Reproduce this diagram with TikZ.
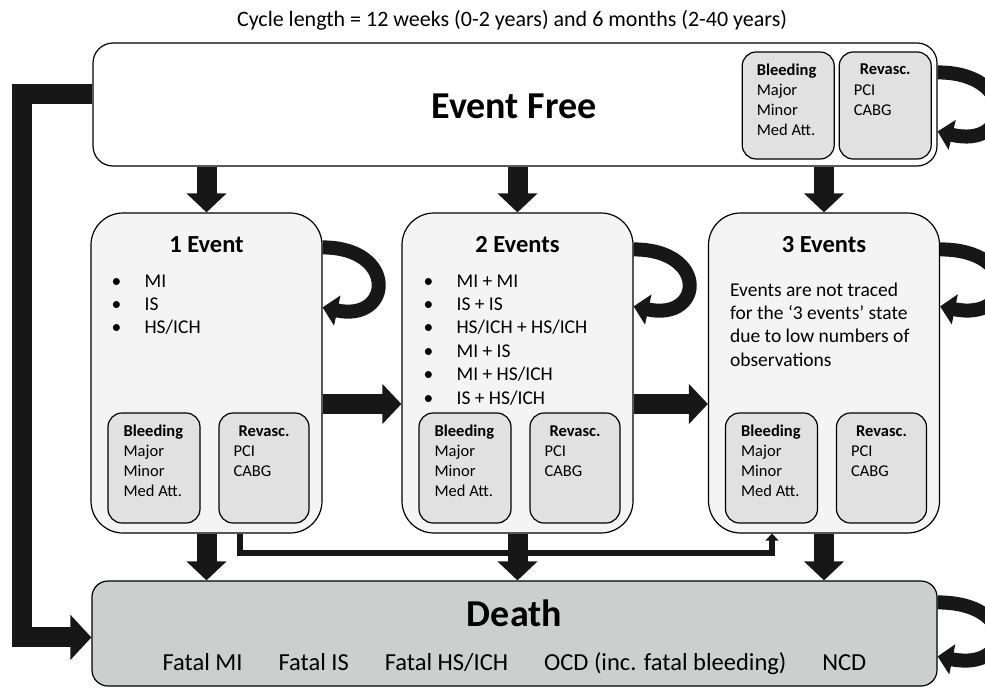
\documentclass[tikz,border=0pt]{standalone}
\usepackage{fontspec}
\setmainfont{Carlito}
\usetikzlibrary{arrows.meta,positioning}
\definecolor{arrowblack}{HTML}{171717}
\definecolor{statefill}{HTML}{F4F4F4}
\definecolor{subfill}{HTML}{E1E1E1}
\definecolor{deathfill}{HTML}{CDCECE}
\newcommand{\bitem}{\makebox[33pt][l]{\textbullet}}

\begin{document}
\begin{tikzpicture}[x=1pt,y=-1pt]
\tikzstyle{eventfree} = [rectangle, rounded corners=20pt, minimum width=844pt, minimum height=123pt, draw=black, line width=1.2pt, fill=white]
\tikzstyle{state} = [rectangle, rounded corners=32pt, minimum width=231pt, minimum height=320pt, draw=black, line width=1.2pt, fill=statefill]
\tikzstyle{deathbox} = [rectangle, rounded corners=16pt, minimum width=845pt, minimum height=105pt, draw=black, line width=1.2pt, fill=deathfill]
\tikzstyle{subbox} = [rectangle, rounded corners=14pt, minimum width=92pt, minimum height=110pt, draw=black, line width=1.2pt, fill=subfill]

\tikzstyle{bigtitle} = [font=\fontsize{38}{44}\selectfont\bfseries, inner sep=0pt]
\tikzstyle{statetitle} = [font=\fontsize{24.5}{29}\selectfont\bfseries, inner sep=0pt]
\tikzstyle{bodytext} = [font=\fontsize{19.5}{23.4}\selectfont, align=left, inner sep=0pt]
\tikzstyle{subtext} = [font=\fontsize{16.5}{20}\selectfont, align=left, inner sep=0pt]

\tikzstyle{bigarrow} = [line width=20pt, color=arrowblack, -{Triangle[width=39pt,length=19pt]}]
\tikzstyle{returnarrow} = [line width=14pt, color=arrowblack, -{Triangle[width=30pt,length=15pt]}]
\tikzstyle{leftarrow} = [line width=20pt, color=arrowblack, -{Triangle[width=44pt,length=21pt]}]
\tikzstyle{thinarrow} = [line width=6pt, color=arrowblack, -{Triangle[width=13pt,length=7pt]}]

\useasboundingbox (0,0) rectangle (985,688);
\clip (0,0) rectangle (985,688);

\node (cycle) [anchor=base, inner sep=0pt, font=\fontsize{22}{26}\selectfont] at (512,27) {Cycle length = 12 weeks (0-2 years) and 6 months (2-40 years)};

% states
\node (ef) [eventfree] at (515,104.5) {};
\node (e1) [state] at (206.5,373) {};
\node (e2) [state] at (517.5,373) {};
\node (e3) [state] at (824,373) {};
\node (death) [deathbox] at (514.5,633.5) {};

\node (ef-title) [bigtitle, anchor=base] at (514,118) {Event Free};
\node (ef-bl) [subbox, minimum height=107pt, anchor=north west] at ([xshift=-196pt,yshift=-9pt]ef.north east) {};
\node (ef-rv) [subbox, minimum height=107pt, anchor=north west] at ([xshift=-99pt,yshift=-9pt]ef.north east) {};
\node (ef-blt) [subtext, anchor=north west] at ([xshift=15pt,yshift=-12pt]ef-bl.north west) {\textbf{Bleeding}\\Major\\Minor\\Med Att.};
\node (ef-rvh) [subtext, anchor=base] at ([yshift=-23pt]ef-rv.north) {\textbf{Revasc.}};
\node (ef-rvt) [subtext, anchor=north west] at ([xshift=15pt,yshift=-33pt]ef-rv.north west) {PCI\\CABG};

\foreach \s/\n in {e1/1 Event, e2/2 Events, e3/3 Events} {
  \node (\s-title) [statetitle, anchor=base] at ([yshift=-40pt]\s.north) {\n};
  \node (\s-bl) [subbox, anchor=north west] at ([xshift=17pt,yshift=-200pt]\s.north west) {};
  \node (\s-rv) [subbox, minimum width=90pt, anchor=north west] at ([xshift=128pt,yshift=-200pt]\s.north west) {};
  \node (\s-blt) [subtext, anchor=north west] at ([xshift=16pt,yshift=-12pt]\s-bl.north west) {\textbf{Bleeding}\\Major\\Minor\\Med Att.};
  \node (\s-rvh) [subtext, anchor=base] at ([yshift=-24pt]\s-rv.north) {\textbf{Revasc.}};
  \node (\s-rvt) [subtext, anchor=north west] at ([xshift=15pt,yshift=-33pt]\s-rv.north west) {PCI\\CABG};
}

\node (e1-list) [bodytext, anchor=north west] at ([xshift=21pt,yshift=-62pt]e1.north west) {\bitem MI\\\bitem IS\\\bitem HS/ICH};
\node (e2-list) [bodytext, anchor=north west] at ([xshift=22pt,yshift=-62pt]e2.north west) {\bitem MI + MI\\\bitem IS + IS\\\bitem HS/ICH + HS/ICH\\\bitem MI + IS\\\bitem MI + HS/ICH\\\bitem IS + HS/ICH};
\node (e3-note) [bodytext, anchor=north west] at ([xshift=22pt,yshift=-70pt]e3.north west) {Events are not traced\\for the ‘3 events’ state\\due to low numbers of\\observations};

\node (death-title) [bigtitle, anchor=base] at ([yshift=-46pt]death.north) {Death};
\node (death-causes) [anchor=base, inner sep=0pt, font=\fontsize{24.5}{29}\selectfont] at ([yshift=-90pt]death.north) {Fatal MI\hspace{36pt}Fatal IS\hspace{36pt}Fatal HS/ICH\hspace{36pt}OCD (inc. fatal bleeding)\hspace{36pt}NCD};

% transitions
\draw [bigarrow] (ef.south -| e1.north) -- (e1.north);
\draw [bigarrow] (ef.south -| e2.north) -- (e2.north);
\draw [bigarrow] (ef.south -| e3.north) -- (e3.north);
\draw [bigarrow] ([yshift=-31pt]e1.east) -- ([yshift=-31pt]e2.west);
\draw [bigarrow] ([yshift=-31pt]e2.east) -- ([yshift=-31pt]e3.west);
\draw [thinarrow] ([xshift=33pt]e1.south) -- ++(0,19) -- ([xshift=-52pt,yshift=-19pt]e3.south) [rounded corners=7pt] -- ([xshift=-52pt]e3.south);
\draw [bigarrow] (e1.south) -- (e1.south |- death.north);
\draw [bigarrow] (e2.south) -- (e2.south |- death.north);
\draw [bigarrow] (e3.south) -- (e3.south |- death.north);
\draw [leftarrow] ([yshift=-52pt]ef.north west) -- ++(-70,0) -- ++(0,543) [rounded corners=22pt] -- ([yshift=-57pt]death.north west);

% staying in the same state
\draw [returnarrow] ([yshift=-30pt]ef.north east) .. controls +(80,0) and +(75,18) .. ([yshift=-89pt]ef.north east);
\draw [returnarrow] ([yshift=-35pt]e1.north east) .. controls +(75,0) and +(70,15) .. ([yshift=-95pt]e1.north east);
\draw [returnarrow] ([yshift=-37pt]e2.north east) .. controls +(75,0) and +(70,15) .. ([yshift=-94pt]e2.north east);
\draw [returnarrow] ([yshift=-37pt]e3.north east) .. controls +(80,0) and +(75,15) .. ([yshift=-94pt]e3.north east);
\draw [returnarrow] ([yshift=-22pt]death.north east) .. controls +(80,0) and +(75,15) .. ([yshift=-76pt]death.north east);

\end{tikzpicture}
\end{document}
